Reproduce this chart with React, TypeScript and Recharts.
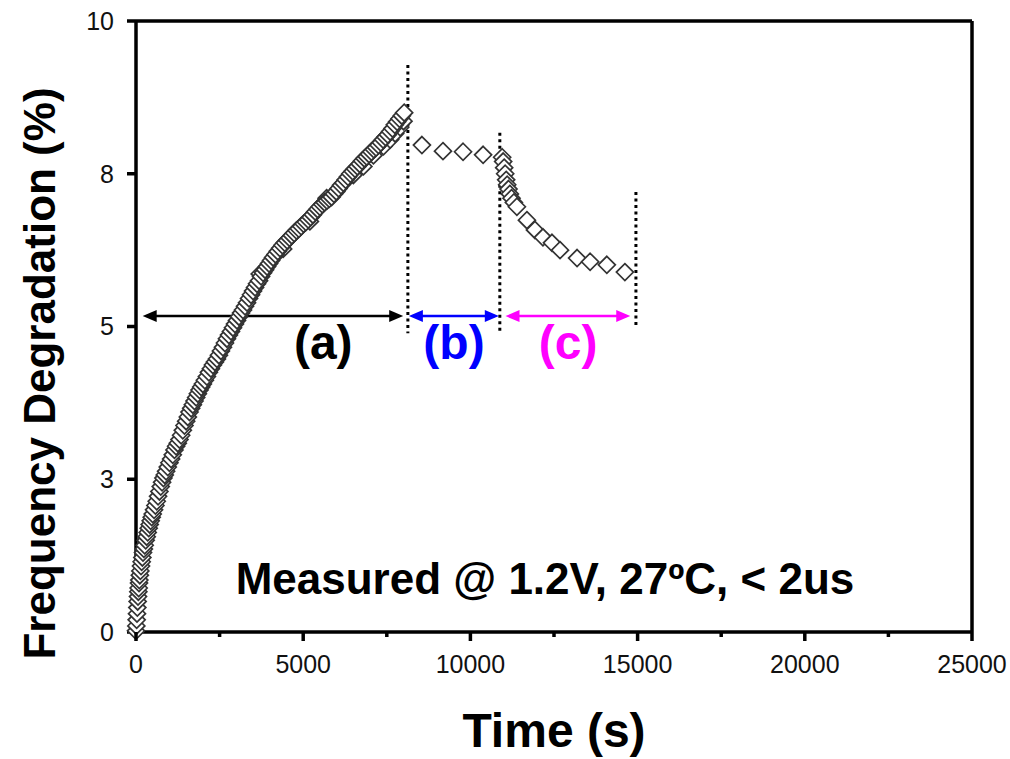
import {
  ReferenceDot,
  ReferenceLine,
  Scatter,
  ScatterChart,
  XAxis,
  YAxis,
} from "recharts";

// phase (a): stress on
const stressTime = [
  3700, 4400, 5200, 5700, 6500, 6800, 7100, 7400, 7600, 7750, 7900, 8000,
  0, 10, 20, 30, 40, 50, 60, 70, 80, 90, 100, 115, 130, 150, 170, 190, 210,
  235, 260, 290, 320, 350, 380, 410, 440, 470, 500, 540, 580, 620, 660, 700,
  740, 780, 820, 860, 900, 950, 1000, 1050, 1100, 1150, 1200, 1250, 1300,
  1350, 1400, 1450, 1500, 1550, 1600, 1650, 1700, 1750, 1800, 1850, 1900,
  1950, 2000, 2060, 2120, 2180, 2240, 2300, 2360, 2420, 2480, 2540, 2600,
  2660, 2720, 2780, 2840, 2900, 2960, 3020, 3080, 3140, 3200, 3260, 3320,
  3380, 3440, 3500, 3560, 3620, 3680, 3740, 3800, 3860, 3920, 3980, 4040,
  4100, 4170, 4240, 4310, 4380, 4450, 4520, 4590, 4660, 4730, 4800, 4870,
  4940, 5010, 5080, 5150, 5220, 5290, 5360, 5430, 5500, 5570, 5640, 5710,
  5780, 5850, 5920, 5990, 6060, 6130, 6200, 6270, 6340, 6410, 6480, 6550,
  6620, 6690, 6760, 6830, 6900, 6970, 7040, 7110, 7180, 7250, 7320, 7390,
  7460, 7530, 7600, 7670, 7740, 7810, 7880, 7950, 8020,
];
const stressDeg = [
  5.86, 6.27, 6.72, 7.1, 7.48, 7.62, 7.8, 7.95, 8.06, 8.16, 8.26, 8.36,
  0.02, 0.1, 0.2, 0.3, 0.4, 0.5, 0.58, 0.66, 0.72, 0.8, 0.85, 0.93, 1.0,
  1.08, 1.15, 1.22, 1.3, 1.36, 1.42, 1.5, 1.56, 1.63, 1.7, 1.76, 1.82, 1.88,
  1.93, 2.0, 2.07, 2.14, 2.22, 2.3, 2.38, 2.45, 2.52, 2.57, 2.63, 2.7, 2.77,
  2.83, 2.9, 2.98, 3.04, 3.09, 3.15, 3.22, 3.3, 3.38, 3.45, 3.52, 3.6, 3.66,
  3.72, 3.78, 3.84, 3.9, 3.96, 4.01, 4.06, 4.12, 4.18, 4.25, 4.31, 4.37,
  4.42, 4.47, 4.53, 4.6, 4.66, 4.73, 4.8, 4.86, 4.92, 4.98, 5.04, 5.1, 5.16,
  5.22, 5.27, 5.33, 5.39, 5.46, 5.52, 5.58, 5.64, 5.7, 5.75, 5.82, 5.88,
  5.93, 5.98, 6.03, 6.08, 6.13, 6.18, 6.23, 6.28, 6.33, 6.37, 6.41, 6.45,
  6.49, 6.53, 6.57, 6.6, 6.64, 6.68, 6.71, 6.75, 6.79, 6.83, 6.88, 6.92,
  6.96, 7.0, 7.03, 7.06, 7.09, 7.12, 7.17, 7.21, 7.26, 7.31, 7.35, 7.4, 7.45,
  7.5, 7.54, 7.58, 7.62, 7.66, 7.71, 7.75, 7.78, 7.82, 7.86, 7.9, 7.93, 7.97,
  8.01, 8.06, 8.1, 8.14, 8.19, 8.24, 8.3, 8.35, 8.4, 8.45, 8.5,
];

// phase (b)
const pauseTime = [8550, 9180, 9780, 10380, 10950];
const pauseDeg = [7.97, 7.87, 7.86, 7.81, 7.77];

// phase (c): recovery
const recoverTime = [
  10980, 11010, 11040, 11070, 11100, 11140, 11180, 11230, 11300, 11390, 11690,
  11930, 12170, 12440, 12680, 13190, 13580, 14080, 14620,
];
const recoverDeg = [
  7.7, 7.6, 7.5, 7.4, 7.32, 7.25, 7.17, 7.1, 7.03, 6.96, 6.74, 6.58, 6.46,
  6.37, 6.25, 6.12, 6.06, 6.01, 5.89,
];

const xTicks = [0, 2500, 5000, 7500, 10000, 12500, 15000, 17500, 20000, 22500, 25000];
const yTicks = [0, 2.5, 5, 7.5, 10];

// phase boundaries (dotted)
const boundaryTime = [8130, 10880, 14950];
const boundaryTop = [9.28, 8.17, 7.2];
const boundaryBottom = [4.89, 4.91, 4.98];

const phaseNames = ["(a)", "(b)", "(c)"];
const phaseColors = ["#000000", "#0000ff", "#ff00ff"];
const arrowStart = [200, 8160, 11050];
const arrowEnd = [7990, 10850, 14780];
const arrowLevel = 5.17;
const phaseLabelX = [5600, 9510, 12920];
const phaseLabelY = 4.47;

const toPoints = (t: number[], d: number[]) => t.map((x, i) => ({ x, y: d[i] }));
const stressData = toPoints(stressTime, stressDeg);
const pauseData = toPoints(pauseTime, pauseDeg);
const recoverData = toPoints(recoverTime, recoverDeg);

const FONT = "'Liberation Sans', Arial, sans-serif";

const Diamond = (p: any) => {
  const r = 8.5;
  return (
    <path
      d={`M${p.cx},${p.cy - r}L${p.cx + r},${p.cy}L${p.cx},${p.cy + r}L${p.cx - r},${p.cy}Z`}
      fill="#ffffff"
      stroke="#333333"
      strokeWidth={1.7}
    />
  );
};

const arrowShape = (color: string) => (p: any) => {
  const { x1, y1, x2 } = p;
  const len = 14;
  const hw = 6;
  return (
    <g>
      <line x1={x1 + 4} y1={y1} x2={x2 - 4} y2={y1} stroke={color} strokeWidth={2.5} />
      <polygon points={`${x1},${y1} ${x1 + len},${y1 - hw} ${x1 + len},${y1 + hw}`} fill={color} />
      <polygon points={`${x2},${y1} ${x2 - len},${y1 - hw} ${x2 - len},${y1 + hw}`} fill={color} />
    </g>
  );
};

const XTick = (p: any) => {
  const v = p.payload.value;
  const major = v % 5000 === 0;
  return (
    <g>
      <line x1={p.x} x2={p.x} y1={p.y} y2={p.y + (major ? 9 : 5)} stroke="#000" strokeWidth={3.5} />
      {major && (
        <text x={p.x} y={p.y + 41} textAnchor="middle" fontSize={25} fill="#111" fontFamily={FONT}>
          {v}
        </text>
      )}
    </g>
  );
};

const textAt = (text: string, color: string, size: number) => (p: any) => (
  <text
    x={p.cx}
    y={p.cy}
    textAnchor="middle"
    fontSize={size}
    fontWeight="bold"
    fill={color}
    fontFamily={FONT}
  >
    {text}
  </text>
);

export default function App() {
  return (
    <div style={{ position: "absolute", left: 0, top: 0, width: 1010, height: 759, background: "#fff", fontFamily: FONT }}>
      <ScatterChart width={1010} height={759} margin={{ top: 21, right: 38, bottom: 0, left: 0 }}>
        <XAxis
          type="number"
          dataKey="x"
          domain={[0, 25000]}
          ticks={xTicks}
          interval={0}
          height={127}
          tickSize={0}
          tickMargin={0}
          tickLine={false}
          axisLine={{ stroke: "#000", strokeWidth: 3.5 }}
          tick={<XTick />}
          label={{
            value: "Time (s)",
            position: "center",
            dy: 34,
            style: { fontSize: 48, fontWeight: "bold", fill: "#000", fontFamily: FONT },
          }}
        />
        <YAxis
          type="number"
          dataKey="y"
          domain={[0, 10]}
          ticks={yTicks}
          interval={0}
          width={136}
          tickSize={9}
          tickMargin={13}
          tickFormatter={(v: number) => String(Math.round(v))}
          tick={{ fontSize: 25, fill: "#111", fontFamily: FONT }}
          tickLine={{ stroke: "#000", strokeWidth: 3.5 }}
          axisLine={{ stroke: "#000", strokeWidth: 3.5 }}
          label={{
            value: "Frequency Degradation (%)",
            angle: -90,
            position: "center",
            dx: -29,
            dy: 47,
            style: { fontSize: 44, fontWeight: "bold", fill: "#000", fontFamily: FONT, textAnchor: "middle" },
          }}
        />
        <ReferenceLine y={10} stroke="#000" strokeWidth={3.5} />
        <ReferenceLine x={25000} stroke="#000" strokeWidth={3.5} />
        {boundaryTime.map((t, i) => (
          <ReferenceLine
            key={`b${i}`}
            segment={[{ x: t, y: boundaryTop[i] }, { x: t, y: boundaryBottom[i] }]}
            stroke="#000"
            strokeWidth={3}
            strokeDasharray="3 3.5"
          />
        ))}
        {phaseNames.map((n, i) => (
          <ReferenceLine
            key={`a${i}`}
            segment={[{ x: arrowStart[i], y: arrowLevel }, { x: arrowEnd[i], y: arrowLevel }]}
            shape={arrowShape(phaseColors[i])}
          />
        ))}
        {phaseNames.map((n, i) => (
          <ReferenceDot
            key={`l${i}`}
            x={phaseLabelX[i]}
            y={phaseLabelY}
            r={0}
            shape={textAt(n, phaseColors[i], 48)}
          />
        ))}
        <ReferenceDot x={12230} y={0.62} r={0} shape={textAt("Measured @ 1.2V, 27ºC, < 2us", "#000", 44)} />
        <Scatter data={stressData} shape={Diamond} isAnimationActive={false} />
        <Scatter data={pauseData} shape={Diamond} isAnimationActive={false} />
        <Scatter data={recoverData} shape={Diamond} isAnimationActive={false} />
      </ScatterChart>
    </div>
  );
}
